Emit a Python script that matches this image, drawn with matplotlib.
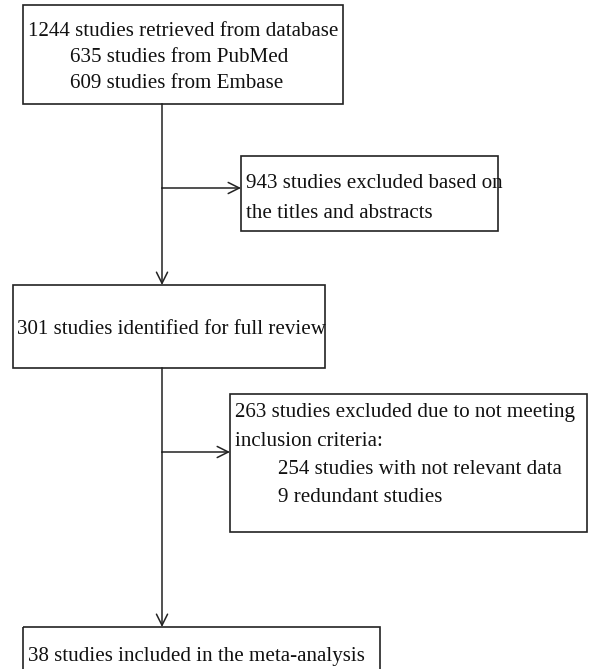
import matplotlib
matplotlib.use("Agg")
import matplotlib.pyplot as plt
from matplotlib.patches import Rectangle

# Box texts of the flow diagram
retrieved = ["1244 studies retrieved from database",
             "635 studies from PubMed",
             "609 studies from Embase"]
excluded_title = ["943 studies excluded based on",
                  "the titles and abstracts"]
full_review = ["301 studies identified for full review"]
excluded_full = ["263 studies excluded due to not meeting",
                 "inclusion criteria:",
                 "254 studies with not relevant data",
                 "9 redundant studies"]
included = ["38 studies included in the meta-analysis"]

W, H = 590, 669
FS = 15.1
plt.rcParams['font.family'] = ['Liberation Serif', 'DejaVu Serif']

fig = plt.figure(figsize=(W / 100, H / 100), dpi=100)
ax = fig.add_axes([0, 0, 1, 1])
ax.set_xlim(0, W)
ax.set_ylim(H, 0)
ax.axis('off')


def box(x0, y0, x1, y1):
    ax.add_patch(Rectangle((x0, y0), x1 - x0, y1 - y0, fill=False,
                           edgecolor='#222222', linewidth=1.2))


def lines(texts, xs, y_first, step=28):
    for i, (t, x) in enumerate(zip(texts, xs)):
        ax.text(x, y_first + i * step, t, fontsize=FS, va='center', ha='left',
                color='#111111')


def arrow(x0, y0, x1, y1):
    ax.annotate("", xy=(x1, y1), xytext=(x0, y0),
                arrowprops=dict(arrowstyle='->', color='#222222', lw=1.1,
                                shrinkA=0, shrinkB=0, mutation_scale=20))


xc = 162
# main vertical flow
ax.plot([xc, xc], [104, 188], color='#222222', lw=1.1)
arrow(xc, 188, xc, 285)
ax.plot([xc, xc], [368, 452], color='#222222', lw=1.1)
arrow(xc, 452, xc, 627)
# side arrows
arrow(xc, 188, 241, 188)
arrow(xc, 452, 230, 452)

box(23, 5, 343, 104)
lines(retrieved, [28, 70, 70], 31, step=26)

box(241, 156, 498, 231)
lines(excluded_title, [246, 246], 184, step=29)

box(13, 285, 325, 368)
lines(full_review, [17], 329)

box(230, 394, 587, 532)
lines(excluded_full, [235, 235, 278, 278], 413)

box(23, 627, 380, 690)
lines(included, [28], 656)

fig.savefig("out.png", dpi=100)
